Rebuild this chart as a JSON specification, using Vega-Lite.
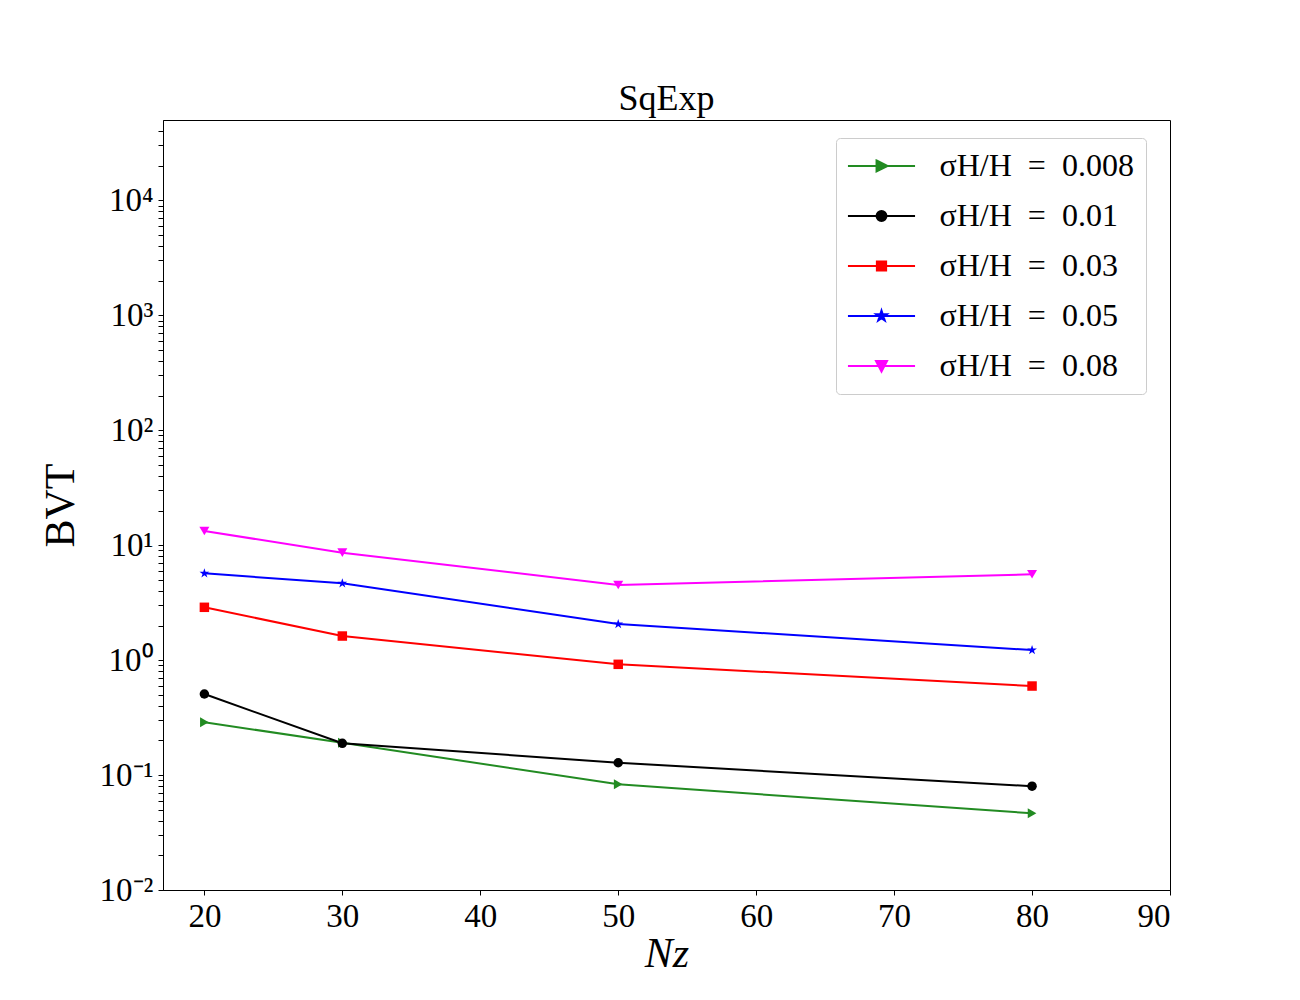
{
  "$schema": "https://vega.github.io/schema/vega-lite/v6.json",
  "width": 1007,
  "height": 770,
  "autosize": "none",
  "padding": {"left": 163, "top": 120, "right": 130, "bottom": 110},
  "background": "white",
  "config": {
    "font": "Liberation Serif",
    "view": {"stroke": "black", "strokeWidth": 1},
    "axis": {
      "grid": false,
      "domainColor": "black",
      "tickColor": "black",
      "labelColor": "black",
      "titleColor": "black",
      "labelFont": "Liberation Serif",
      "titleFont": "Liberation Serif",
      "labelFontSize": 33,
      "titleFontSize": 42,
      "titleFontWeight": "normal",
      "tickSize": 5,
      "labelPadding": 5
    }
  },
  "title": {
    "text": "SqExp",
    "fontSize": 36,
    "fontWeight": "normal",
    "anchor": "middle",
    "offset": 8,
    "dy": 34,
    "baseline": "alphabetic",
    "color": "black",
    "font": "Liberation Serif"
  },
  "data": {
    "values": [
      {"N": 20, "BVT": 0.288, "s": "σH/H\u2002=\u20020.008"},
      {"N": 30, "BVT": 0.191, "s": "σH/H\u2002=\u20020.008"},
      {"N": 50, "BVT": 0.083, "s": "σH/H\u2002=\u20020.008"},
      {"N": 80, "BVT": 0.0465, "s": "σH/H\u2002=\u20020.008"},
      {"N": 20, "BVT": 0.507, "s": "σH/H\u2002=\u20020.01"},
      {"N": 30, "BVT": 0.189, "s": "σH/H\u2002=\u20020.01"},
      {"N": 50, "BVT": 0.128, "s": "σH/H\u2002=\u20020.01"},
      {"N": 80, "BVT": 0.080, "s": "σH/H\u2002=\u20020.01"},
      {"N": 20, "BVT": 2.88, "s": "σH/H\u2002=\u20020.03"},
      {"N": 30, "BVT": 1.62, "s": "σH/H\u2002=\u20020.03"},
      {"N": 50, "BVT": 0.919, "s": "σH/H\u2002=\u20020.03"},
      {"N": 80, "BVT": 0.595, "s": "σH/H\u2002=\u20020.03"},
      {"N": 20, "BVT": 5.69, "s": "σH/H\u2002=\u20020.05"},
      {"N": 30, "BVT": 4.66, "s": "σH/H\u2002=\u20020.05"},
      {"N": 50, "BVT": 2.06, "s": "σH/H\u2002=\u20020.05"},
      {"N": 80, "BVT": 1.224, "s": "σH/H\u2002=\u20020.05"},
      {"N": 20, "BVT": 13.28, "s": "σH/H\u2002=\u20020.08"},
      {"N": 30, "BVT": 8.60, "s": "σH/H\u2002=\u20020.08"},
      {"N": 50, "BVT": 4.50, "s": "σH/H\u2002=\u20020.08"},
      {"N": 80, "BVT": 5.58, "s": "σH/H\u2002=\u20020.08"}
    ]
  },
  "encoding": {
    "x": {
      "field": "N", "type": "quantitative",
      "scale": {"domain": [17, 90], "nice": false, "zero": false},
      "axis": {"values": [20, 30, 40, 50, 60, 70, 80, 90], "format": "d", "title": "Nz", "titleFontStyle": "italic", "titleY": 76, "titleBaseline": "alphabetic"}
    },
    "y": {
      "field": "BVT", "type": "quantitative",
      "scale": {"type": "log", "domain": [0.01, 50000], "nice": false},
      "axis": {
        "title": "BVT",
        "titleX": -90,
        "titleY": 385,
        "titleBaseline": "alphabetic",
        "titleAlign": "center",
        "values": [0.01,0.02,0.03,0.04,0.05,0.06,0.07,0.08,0.09,0.1,0.2,0.3,0.4,0.5,0.6,0.7,0.8,0.9,1,2,3,4,5,6,7,8,9,10,20,30,40,50,60,70,80,90,100,200,300,400,500,600,700,800,900,1000,2000,3000,4000,5000,6000,7000,8000,9000,10000,20000,30000,40000],
        "labelExpr": "abs(log(datum.value)/LN10 - round(log(datum.value)/LN10)) < 0.001 ? ('10' + (round(log(datum.value)/LN10) == -2 ? '⁻²' : round(log(datum.value)/LN10) == -1 ? '⁻¹' : round(log(datum.value)/LN10) == 0 ? '⁰' : round(log(datum.value)/LN10) == 1 ? '¹' : round(log(datum.value)/LN10) == 2 ? '²' : round(log(datum.value)/LN10) == 3 ? '³' : '⁴')) : ''",
        "encode": {
          "ticks": {"update": {"x2": {"signal": "abs(log(datum.value)/LN10 - round(log(datum.value)/LN10)) < 0.001 ? -5 : -3"}}}
        }
      }
    },
    "color": {
      "field": "s", "type": "nominal",
      "scale": {"domain": ["σH/H\u2002=\u20020.008", "σH/H\u2002=\u20020.01", "σH/H\u2002=\u20020.03", "σH/H\u2002=\u20020.05", "σH/H\u2002=\u20020.08"], "range": ["#228b22", "#000000", "#ff0000", "#0000ff", "#ff00ff"]},
      "legend": {
        "title": null,
        "orient": "none",
        "legendX": 673,
        "legendY": 18,
        "padding": 12,
        "strokeColor": "#cccccc",
        "fillColor": "white",
        "cornerRadius": 4,
        "labelFont": "Liberation Serif",
        "labelFontSize": 32,
        "labelColor": "black",
        "labelLimit": 400,
        "symbolSize": 484,
        "symbolStrokeWidth": 2,
        "symbolOpacity": 1,
        "symbolOffset": 17.5,
        "labelOffset": 42,
        "rowPadding": 18,
        "encode": {
          "symbols": {
            "update": {
              "shape": {"signal": "indexof(datum.value, '0.008') >= 0 ? 'M-3.05,0H3.05M-0.45,-0.5L0.55,0L-0.45,0.5Z' : indexof(datum.value, '0.01') >= 0 ? 'M-3.05,0H3.05M0.45,0A0.45,0.45 0 1,1 -0.45,0A0.45,0.45 0 1,1 0.45,0Z' : indexof(datum.value, '0.03') >= 0 ? 'M-3.05,0H3.05M-0.42,-0.42H0.42V0.42H-0.42Z' : indexof(datum.value, '0.05') >= 0 ? 'M-3.05,0H3.05M0,-0.5L0.1117,-0.1537L0.4756,-0.1545L0.1807,0.0587L0.2939,0.4045L0,0.19L-0.2939,0.4045L-0.1807,0.0587L-0.4756,-0.1545L-0.1117,-0.1537Z' : 'M-3.05,0H3.05M-0.5,-0.45L0.5,-0.45L0,0.5Z'"},
              "fill": {"scale": "color", "field": "value"},
              "stroke": {"scale": "color", "field": "value"},
              "strokeWidth": {"value": 2},
              "size": {"value": 484},
              "opacity": {"value": 1},
              "fillOpacity": {"value": 1},
              "strokeOpacity": {"value": 1}
            }
          }
        }
      }
    }
  },
  "layer": [
    {"mark": {"type": "line", "strokeWidth": 2}},
    {
      "transform": [{"filter": {"field": "s", "equal": "σH/H\u2002=\u20020.008"}}],
      "mark": {"type": "point", "filled": true, "opacity": 1, "size": 100, "shape": "triangle-right"}
    },
    {
      "transform": [{"filter": {"field": "s", "equal": "σH/H\u2002=\u20020.01"}}],
      "mark": {"type": "point", "filled": true, "opacity": 1, "size": 90, "shape": "circle"}
    },
    {
      "transform": [{"filter": {"field": "s", "equal": "σH/H\u2002=\u20020.03"}}],
      "mark": {"type": "point", "filled": true, "opacity": 1, "size": 90, "shape": "square"}
    },
    {
      "transform": [{"filter": {"field": "s", "equal": "σH/H\u2002=\u20020.05"}}],
      "mark": {"type": "point", "filled": true, "opacity": 1, "size": 105, "shape": "M0,-1L0.2234,-0.3074L0.9511,-0.309L0.3614,0.1174L0.5878,0.809L0,0.38L-0.5878,0.809L-0.3614,0.1174L-0.9511,-0.309L-0.2234,-0.3074Z"}
    },
    {
      "transform": [{"filter": {"field": "s", "equal": "σH/H\u2002=\u20020.08"}}],
      "mark": {"type": "point", "filled": true, "opacity": 1, "size": 100, "shape": "triangle-down"}
    }
  ]
}
